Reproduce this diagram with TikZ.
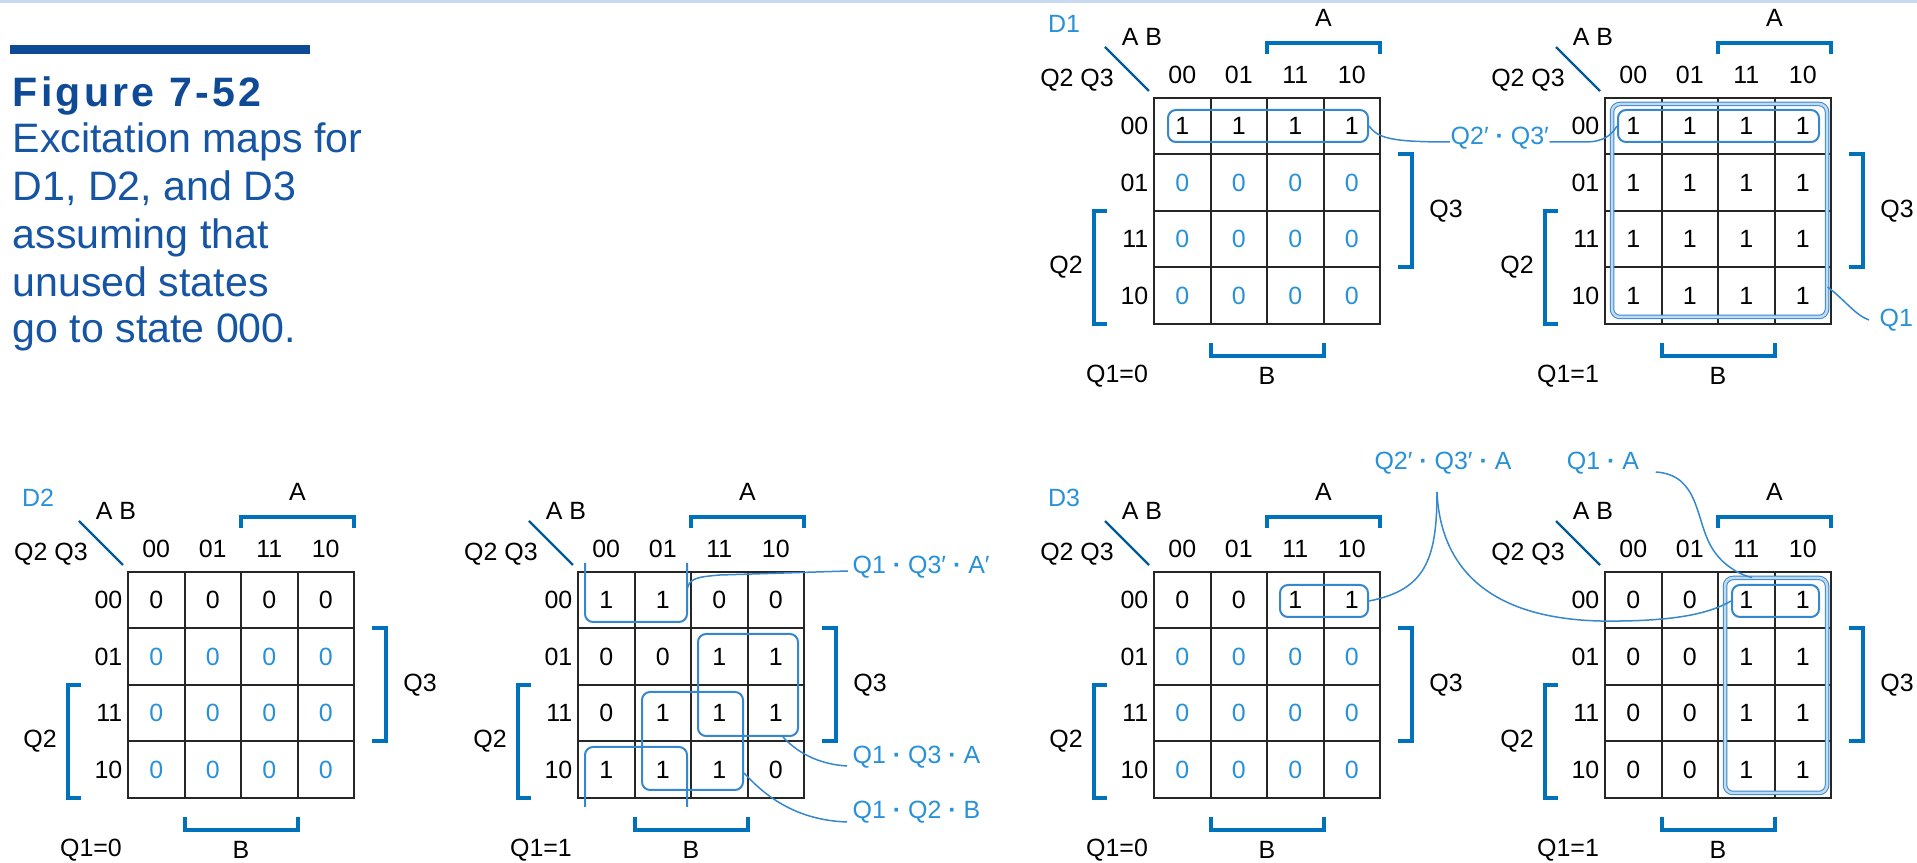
\documentclass[tikz,border=0pt]{standalone}
\usepackage{fontspec}
\setmainfont{Liberation Sans}

\definecolor{titleblue}{RGB}{14,74,150}
\definecolor{capblue}{RGB}{22,84,164}
\definecolor{brblue}{RGB}{0,114,188}
\definecolor{zeroblue}{RGB}{40,145,215}
\definecolor{lblblue}{RGB}{40,145,215}
\definecolor{loopblue}{RGB}{55,135,205}
\definecolor{topline}{RGB}{200,218,240}

\newcommand{\mapfont}{\fontsize{7.1}{8}\selectfont}
\newcommand{\capfont}{\fontsize{11.7}{13.5}\selectfont}
\newcommand{\mdot}{\textbf{·}}

\tikzset{
  maptext/.style = {font=\mapfont, inner sep=0pt},
  exprtext/.style = {maptext, text=lblblue},
  gridline/.style = {black!85, line width=0.2mm},
  bracket/.style = {brblue, line width=0.4mm},
  diag/.style = {brblue!80!black, line width=0.22mm},
  loopbox/.style = {draw=loopblue, rounded corners=0.8mm, line width=0.2mm, inner sep=0pt},
  bigloop/.style = {loopbox, line width=0.1mm, double=loopblue!30, double distance=0.25mm},
  loopline/.style = {loopblue, rounded corners=0.8mm, line width=0.2mm},
  leader/.style = {loopblue, line width=0.15mm}
}

% K-map: x, y of grid corner, name, title, Q1 text, colour of rows 2-4, rows
\newcommand{\kmap}[7]{%
  \begin{scope}[shift={(#1,#2)}]
    \if\relax\detokenize{#4}\relax\else
      \node[exprtext] (#3-title) at (-90,-74) {#4};
    \fi
    \node[maptext] (#3-ab) at (-12,-61) {A B};
    \node[maptext] (#3-q2q3) at (-77,-18) {Q2 Q3};
    \draw[diag] (-49,-51) -- (-5,-7);
    % grid
    \draw[gridline] (0,0) rectangle (226,226);
    \foreach \k in {56.5,113,169.5}
      \draw[gridline] (\k,0) -- (\k,226) (0,\k) -- (226,\k);
    \foreach \h [count=\i from 0] in {00,01,11,10} {
      \node[maptext] (#3-c\i) at ({56.5*\i+28.25},-23) {\h};
      \node[maptext, anchor=east] (#3-r\i) at (-5,{56.5*\i+28.25}) {\h};
    }
    \foreach \row [count=\j from 0] in {#7} {
      \ifnum\j=0 \def\cellcol{black}\else\def\cellcol{#6}\fi
      \foreach \v [count=\i from 0] in \row
        \node[maptext, text=\cellcol] (#3-\j\i) at ({56.5*\i+28.25},{56.5*\j+28.25}) {\v};
    }
    % variable brackets
    \draw[bracket] (113,-44) -- (113,-55) -- (226,-55) -- (226,-44);
    \node[maptext] (#3-a) at (169.5,-80) {A};
    \draw[bracket] (244,56.5) -- (258,56.5) -- (258,169.5) -- (244,169.5);
    \node[maptext] (#3-q3) at (292,113) {Q3};
    \draw[bracket] (-47,113) -- (-60,113) -- (-60,226) -- (-47,226);
    \node[maptext] (#3-q2) at (-88,169.5) {Q2};
    \draw[bracket] (56.5,245) -- (56.5,258) -- (169.5,258) -- (169.5,245);
    \node[maptext] (#3-b) at (113,278) {B};
    \node[maptext] (#3-q1) at (-37,278) {#5};
  \end{scope}}

\begin{document}
\begin{tikzpicture}[x=0.1mm, y=-0.1mm]
  \useasboundingbox (0,0) rectangle (1917,863);
  \draw[topline, line width=0.3mm] (0,1.5) -- (1917,1.5);

  % caption
  \draw[titleblue, line width=0.9mm] (10,49.5) -- (310,49.5);
  \node[anchor=base west, inner sep=0pt, text=titleblue, font=\capfont\bfseries\addfontfeature{LetterSpace=8}] (figno) at (12,107) {Figure 7-52};
  \node[anchor=base west, inner sep=0pt, text=capblue, font=\capfont] (cap1) at (12,153) {Excitation maps for};
  \node[anchor=base west, inner sep=0pt, text=capblue, font=\capfont] (cap2) at (12,201) {D1, D2, and D3};
  \node[anchor=base west, inner sep=0pt, text=capblue, font=\capfont] (cap3) at (12,249) {assuming that};
  \node[anchor=base west, inner sep=0pt, text=capblue, font=\capfont] (cap4) at (12,297) {unused states};
  \node[anchor=base west, inner sep=0pt, text=capblue, font=\capfont] (cap5) at (12,343) {go to state 000.};

  % maps
  \kmap{1154}{98}{d1a}{D1}{Q1=0}{zeroblue}{{1,1,1,1},{0,0,0,0},{0,0,0,0},{0,0,0,0}}
  \kmap{1605}{98}{d1b}{}{Q1=1}{black}{{1,1,1,1},{1,1,1,1},{1,1,1,1},{1,1,1,1}}
  \kmap{128}{572}{d2a}{D2}{Q1=0}{zeroblue}{{0,0,0,0},{0,0,0,0},{0,0,0,0},{0,0,0,0}}
  \kmap{578}{572}{d2b}{}{Q1=1}{black}{{1,1,0,0},{0,0,1,1},{0,1,1,1},{1,1,1,0}}
  \kmap{1154}{572}{d3a}{D3}{Q1=0}{zeroblue}{{0,0,1,1},{0,0,0,0},{0,0,0,0},{0,0,0,0}}
  \kmap{1605}{572}{d3b}{}{Q1=1}{black}{{0,0,1,1},{0,0,1,1},{0,0,1,1},{0,0,1,1}}

  % D1 loops
  \node[loopbox, minimum width=20mm, minimum height=3.2mm] (d1a-row) at (1268,126) {};
  \node[loopbox, minimum width=20.1mm, minimum height=3.2mm] (d1b-row) at (1718.5,126) {};
  \node[bigloop, minimum width=21.5mm, minimum height=21.3mm] (d1b-all) at (1719.5,210.5) {};
  \node[exprtext, anchor=west] (d1-q2q3) at (1450,138) {Q2′ \mdot\ Q3′};
  \node[exprtext, anchor=west] (d1-q1) at (1879,320) {Q1};
  \draw[leader] (d1a-row.east) .. controls (1378,138) and (1390,142) .. ([yshift=-0.4mm]d1-q2q3.west);
  \draw[leader] ([yshift=-0.4mm]d1-q2q3.east) -- (1585,142) .. controls (1605,142) and (1612,134) .. (d1b-row.west);
  \draw[leader] ([yshift=-7.65mm]d1b-all.east) .. controls (1845,300) and (1855,315) .. ([xshift=-1mm]d1-q1.west);

  % D2 loops
  \draw[loopline] (585,563) -- (585,622) -- (687,622) -- (687,563);
  \draw[loopline] (585,807) -- (585,747) -- (687,747) -- (687,807);
  \coordinate (d2b-wrap) at (687,590);
  \node[loopbox, minimum width=10mm, minimum height=10.2mm] (d2b-q3a) at (748,685) {};
  \node[loopbox, minimum width=10.1mm, minimum height=9.8mm] (d2b-q2b) at (692.5,741) {};
  \node[exprtext, anchor=west] (d2-t1) at (852,567) {Q1 \mdot\ Q3′ \mdot\ A′};
  \node[exprtext, anchor=west] (d2-t2) at (852,757) {Q1 \mdot\ Q3 \mdot\ A};
  \node[exprtext, anchor=west] (d2-t3) at (852,812) {Q1 \mdot\ Q2 \mdot\ B};
  \draw[leader] (d2b-wrap) .. controls (689,578) and (697,577) .. (720,575) -- ([xshift=-0.4mm, yshift=-0.4mm]d2-t1.west);
  \draw[leader] ([xshift=3.5mm]d2b-q3a.south) .. controls (795,750) and (815,764) .. ([xshift=-0.5mm, yshift=-0.9mm]d2-t2.west);
  \draw[leader] ([yshift=-3.2mm]d2b-q2b.east) .. controls (760,790) and (790,820) .. ([xshift=-0.5mm, yshift=-1mm]d2-t3.west);

  % D3 loops
  \node[loopbox, minimum width=8.8mm, minimum height=3.2mm] (d3a-row) at (1324,601) {};
  \node[loopbox, minimum width=8.7mm, minimum height=3.2mm] (d3b-row) at (1775.5,601) {};
  \node[bigloop, minimum width=10.2mm, minimum height=21.5mm] (d3b-all) at (1776,685.5) {};
  \node[exprtext] (d3-t1) at (1443,463) {Q2′ \mdot\ Q3′ \mdot\ A};
  \node[exprtext] (d3-t2) at (1603,463) {Q1 \mdot\ A};
  \coordinate (d3-cusp) at (1437,492);
  \draw[leader] (d3a-row.east) .. controls (1425,590) and (1437,560) .. (d3-cusp);
  \draw[leader] (d3-cusp) .. controls (1440,560) and (1480,618) .. (1600,621) .. controls (1680,622) and (1712,612) .. (d3b-row.west);
  \draw[leader] ([xshift=1.6mm, yshift=-0.9mm]d3-t2.east) .. controls (1700,475) and (1695,520) .. (1712,548) .. controls (1722,565) and (1740,575) .. ([xshift=-2.4mm]d3b-all.north);
\end{tikzpicture}
\end{document}
